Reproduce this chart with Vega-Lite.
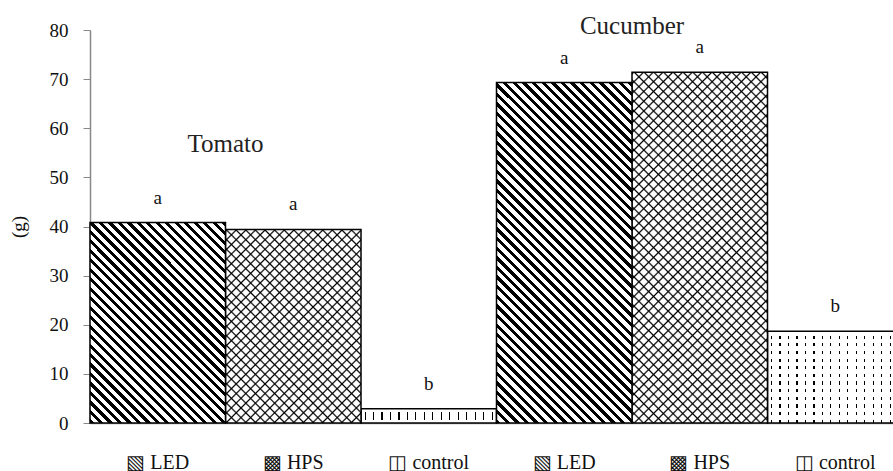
{
  "$schema": "https://vega.github.io/schema/vega-lite/v6.json",
  "width": 803,
  "height": 393,
  "autosize": {"type": "none"},
  "padding": {"left": 90, "top": 30, "right": 0, "bottom": 48},
  "config": {
    "view": {"stroke": null},
    "font": "Liberation Serif",
    "axis": {"labelFont": "Liberation Serif", "titleFont": "Liberation Serif", "grid": false}
  },
  "datasets": {
    "bars": [
      {"bar": "Tomato LED", "crop": "Tomato", "treatment": "LED", "g": 40.8, "sig": "a"},
      {"bar": "Tomato HPS", "crop": "Tomato", "treatment": "HPS", "g": 39.4, "sig": "a"},
      {"bar": "Tomato control", "crop": "Tomato", "treatment": "control", "g": 2.9, "sig": "b"},
      {"bar": "Cucumber LED", "crop": "Cucumber", "treatment": "LED", "g": 69.3, "sig": "a"},
      {"bar": "Cucumber HPS", "crop": "Cucumber", "treatment": "HPS", "g": 71.4, "sig": "a"},
      {"bar": "Cucumber control", "crop": "Cucumber", "treatment": "control", "g": 18.7, "sig": "b"}
    ],
    "groups": [
      {"bar": "Tomato HPS", "label": "Tomato", "ly": 55.2},
      {"bar": "Cucumber HPS", "label": "Cucumber", "ly": 79.2}
    ]
  },
  "encoding": {
    "x": {
      "field": "bar",
      "type": "nominal",
      "scale": {
        "domain": ["Tomato LED", "Tomato HPS", "Tomato control", "Cucumber LED", "Cucumber HPS", "Cucumber control"],
        "range": [0, 813],
        "paddingInner": 0,
        "paddingOuter": 0
      },
      "axis": {
        "title": null,
        "ticks": false,
        "tickSize": 0,
        "labelAngle": 0,
        "labelFont": "Liberation Serif",
        "labelFontSize": 20,
        "labelColor": "#111",
        "labelBaseline": "alphabetic",
        "labelPadding": 45,
        "domainColor": "#999",
        "domainWidth": 1.5,
        "labelExpr": "indexof(datum.value,'LED')>=0 ? '▧ LED' : indexof(datum.value,'HPS')>=0 ? '▩ HPS' : '◫ control'"
      }
    }
  },
  "layer": [
    {
      "data": {"name": "bars"},
      "encoding": {
        "y": {
          "field": "g",
          "type": "quantitative",
          "scale": {"domain": [0, 80], "nice": false},
          "axis": {
            "title": "(g)",
            "values": [0, 10, 20, 30, 40, 50, 60, 70, 80],
            "titleFont": "Liberation Serif",
            "titleFontSize": 19,
            "titleFontWeight": "normal",
            "titleColor": "#111",
            "titlePadding": 21,
            "labelFont": "Liberation Serif",
            "labelFontSize": 19,
            "labelColor": "#111",
            "labelPadding": 15,
            "tickSize": 7,
            "tickColor": "#888",
            "domainColor": "#888",
            "domainWidth": 1.5
          }
        }
      },
      "layer": [
        {
          "transform": [{"filter": "datum.treatment === 'control'"}],
          "mark": {
            "type": "bar",
            "fill": {
              "gradient": "linear", "x1": 0, "y1": 0, "x2": 1, "y2": 0,
              "stops": [
                {"offset":0,"color":"#fff"},{"offset":0.026,"color":"#fff"},{"offset":0.026,"color":"#000"},{"offset":0.0345,"color":"#000"},{"offset":0.0345,"color":"#fff"},
                {"offset":0.0885,"color":"#fff"},{"offset":0.0885,"color":"#000"},{"offset":0.097,"color":"#000"},{"offset":0.097,"color":"#fff"},
                {"offset":0.151,"color":"#fff"},{"offset":0.151,"color":"#000"},{"offset":0.1595,"color":"#000"},{"offset":0.1595,"color":"#fff"},
                {"offset":0.2135,"color":"#fff"},{"offset":0.2135,"color":"#000"},{"offset":0.222,"color":"#000"},{"offset":0.222,"color":"#fff"},
                {"offset":0.276,"color":"#fff"},{"offset":0.276,"color":"#000"},{"offset":0.2845,"color":"#000"},{"offset":0.2845,"color":"#fff"},
                {"offset":0.3385,"color":"#fff"},{"offset":0.3385,"color":"#000"},{"offset":0.347,"color":"#000"},{"offset":0.347,"color":"#fff"},
                {"offset":0.401,"color":"#fff"},{"offset":0.401,"color":"#000"},{"offset":0.4095,"color":"#000"},{"offset":0.4095,"color":"#fff"},
                {"offset":0.4635,"color":"#fff"},{"offset":0.4635,"color":"#000"},{"offset":0.472,"color":"#000"},{"offset":0.472,"color":"#fff"},
                {"offset":0.526,"color":"#fff"},{"offset":0.526,"color":"#000"},{"offset":0.5345,"color":"#000"},{"offset":0.5345,"color":"#fff"},
                {"offset":0.5885,"color":"#fff"},{"offset":0.5885,"color":"#000"},{"offset":0.597,"color":"#000"},{"offset":0.597,"color":"#fff"},
                {"offset":0.651,"color":"#fff"},{"offset":0.651,"color":"#000"},{"offset":0.6595,"color":"#000"},{"offset":0.6595,"color":"#fff"},
                {"offset":0.7135,"color":"#fff"},{"offset":0.7135,"color":"#000"},{"offset":0.722,"color":"#000"},{"offset":0.722,"color":"#fff"},
                {"offset":0.776,"color":"#fff"},{"offset":0.776,"color":"#000"},{"offset":0.7845,"color":"#000"},{"offset":0.7845,"color":"#fff"},
                {"offset":0.8385,"color":"#fff"},{"offset":0.8385,"color":"#000"},{"offset":0.847,"color":"#000"},{"offset":0.847,"color":"#fff"},
                {"offset":0.901,"color":"#fff"},{"offset":0.901,"color":"#000"},{"offset":0.9095,"color":"#000"},{"offset":0.9095,"color":"#fff"},
                {"offset":0.9635,"color":"#fff"},{"offset":0.9635,"color":"#000"},{"offset":0.972,"color":"#000"},{"offset":0.972,"color":"#fff"},
                {"offset":1,"color":"#fff"}
              ]
            }
          }
        },
        {
          "transform": [{"filter": "datum.bar === 'Tomato control'"}],
          "mark": {
            "type": "bar", "stroke": "#000", "strokeWidth": 1.5,
            "fill": {
              "gradient": "linear", "x1": 0, "y1": 0, "x2": 0, "y2": 1,
              "stops": [
                {"offset":0,"color":"#fff"},{"offset":0.22,"color":"#fff"},{"offset":0.22,"color":"transparent"},
                {"offset":0.78,"color":"transparent"},{"offset":0.78,"color":"#fff"},{"offset":1,"color":"#fff"}
              ]
            }
          }
        },
        {
          "transform": [{"filter": "datum.bar === 'Cucumber control'"}],
          "mark": {
            "type": "bar", "stroke": "#000", "strokeWidth": 1.5,
            "fill": {
              "gradient": "linear", "x1": 0, "y1": 0, "x2": 0, "y2": 1,
              "stops": [
                {"offset":0,"color":"#fff"},{"offset":0.048,"color":"#fff"},{"offset":0.048,"color":"transparent"},{"offset":0.0833,"color":"transparent"},
                {"offset":0.0833,"color":"#fff"},{"offset":0.1313,"color":"#fff"},{"offset":0.1313,"color":"transparent"},{"offset":0.1667,"color":"transparent"},
                {"offset":0.1667,"color":"#fff"},{"offset":0.2147,"color":"#fff"},{"offset":0.2147,"color":"transparent"},{"offset":0.25,"color":"transparent"},
                {"offset":0.25,"color":"#fff"},{"offset":0.298,"color":"#fff"},{"offset":0.298,"color":"transparent"},{"offset":0.3333,"color":"transparent"},
                {"offset":0.3333,"color":"#fff"},{"offset":0.3813,"color":"#fff"},{"offset":0.3813,"color":"transparent"},{"offset":0.4167,"color":"transparent"},
                {"offset":0.4167,"color":"#fff"},{"offset":0.4647,"color":"#fff"},{"offset":0.4647,"color":"transparent"},{"offset":0.5,"color":"transparent"},
                {"offset":0.5,"color":"#fff"},{"offset":0.548,"color":"#fff"},{"offset":0.548,"color":"transparent"},{"offset":0.5833,"color":"transparent"},
                {"offset":0.5833,"color":"#fff"},{"offset":0.6313,"color":"#fff"},{"offset":0.6313,"color":"transparent"},{"offset":0.6667,"color":"transparent"},
                {"offset":0.6667,"color":"#fff"},{"offset":0.7147,"color":"#fff"},{"offset":0.7147,"color":"transparent"},{"offset":0.75,"color":"transparent"},
                {"offset":0.75,"color":"#fff"},{"offset":0.798,"color":"#fff"},{"offset":0.798,"color":"transparent"},{"offset":0.8333,"color":"transparent"},
                {"offset":0.8333,"color":"#fff"},{"offset":0.8813,"color":"#fff"},{"offset":0.8813,"color":"transparent"},{"offset":0.9167,"color":"transparent"},
                {"offset":0.9167,"color":"#fff"},{"offset":0.9647,"color":"#fff"},{"offset":0.9647,"color":"transparent"},{"offset":1,"color":"transparent"}
              ]
            }
          }
        },
        {
          "transform": [{"filter": "datum.bar === 'Tomato HPS'"}],
          "mark": {
            "type": "bar",
            "fill": {
              "gradient": "linear", "x1": 0, "y1": 0, "x2": 0.9336, "y2": 1.3335,
              "stops": [
                {"offset":0,"color":"#fff"},{"offset":0.0044,"color":"#000"},{"offset":0.0088,"color":"#fff"},
                {"offset":0.025,"color":"#fff"},{"offset":0.0294,"color":"#000"},{"offset":0.0338,"color":"#fff"},
                {"offset":0.05,"color":"#fff"},{"offset":0.0544,"color":"#000"},{"offset":0.0588,"color":"#fff"},
                {"offset":0.075,"color":"#fff"},{"offset":0.0794,"color":"#000"},{"offset":0.0838,"color":"#fff"},
                {"offset":0.1,"color":"#fff"},{"offset":0.1044,"color":"#000"},{"offset":0.1088,"color":"#fff"},
                {"offset":0.125,"color":"#fff"},{"offset":0.1294,"color":"#000"},{"offset":0.1338,"color":"#fff"},
                {"offset":0.15,"color":"#fff"},{"offset":0.1544,"color":"#000"},{"offset":0.1588,"color":"#fff"},
                {"offset":0.175,"color":"#fff"},{"offset":0.1794,"color":"#000"},{"offset":0.1838,"color":"#fff"},
                {"offset":0.2,"color":"#fff"},{"offset":0.2044,"color":"#000"},{"offset":0.2088,"color":"#fff"},
                {"offset":0.225,"color":"#fff"},{"offset":0.2294,"color":"#000"},{"offset":0.2338,"color":"#fff"},
                {"offset":0.25,"color":"#fff"},{"offset":0.2544,"color":"#000"},{"offset":0.2588,"color":"#fff"},
                {"offset":0.275,"color":"#fff"},{"offset":0.2794,"color":"#000"},{"offset":0.2838,"color":"#fff"},
                {"offset":0.3,"color":"#fff"},{"offset":0.3044,"color":"#000"},{"offset":0.3088,"color":"#fff"},
                {"offset":0.325,"color":"#fff"},{"offset":0.3294,"color":"#000"},{"offset":0.3338,"color":"#fff"},
                {"offset":0.35,"color":"#fff"},{"offset":0.3544,"color":"#000"},{"offset":0.3588,"color":"#fff"},
                {"offset":0.375,"color":"#fff"},{"offset":0.3794,"color":"#000"},{"offset":0.3838,"color":"#fff"},
                {"offset":0.4,"color":"#fff"},{"offset":0.4044,"color":"#000"},{"offset":0.4088,"color":"#fff"},
                {"offset":0.425,"color":"#fff"},{"offset":0.4294,"color":"#000"},{"offset":0.4338,"color":"#fff"},
                {"offset":0.45,"color":"#fff"},{"offset":0.4544,"color":"#000"},{"offset":0.4588,"color":"#fff"},
                {"offset":0.475,"color":"#fff"},{"offset":0.4794,"color":"#000"},{"offset":0.4838,"color":"#fff"},
                {"offset":0.5,"color":"#fff"},{"offset":0.5044,"color":"#000"},{"offset":0.5088,"color":"#fff"},
                {"offset":0.525,"color":"#fff"},{"offset":0.5294,"color":"#000"},{"offset":0.5338,"color":"#fff"},
                {"offset":0.55,"color":"#fff"},{"offset":0.5544,"color":"#000"},{"offset":0.5588,"color":"#fff"},
                {"offset":0.575,"color":"#fff"},{"offset":0.5794,"color":"#000"},{"offset":0.5838,"color":"#fff"},
                {"offset":0.6,"color":"#fff"},{"offset":0.6044,"color":"#000"},{"offset":0.6088,"color":"#fff"},
                {"offset":0.625,"color":"#fff"},{"offset":0.6294,"color":"#000"},{"offset":0.6338,"color":"#fff"},
                {"offset":0.65,"color":"#fff"},{"offset":0.6544,"color":"#000"},{"offset":0.6588,"color":"#fff"},
                {"offset":0.675,"color":"#fff"},{"offset":0.6794,"color":"#000"},{"offset":0.6838,"color":"#fff"},
                {"offset":0.7,"color":"#fff"},{"offset":0.7044,"color":"#000"},{"offset":0.7088,"color":"#fff"},
                {"offset":0.725,"color":"#fff"},{"offset":0.7294,"color":"#000"},{"offset":0.7338,"color":"#fff"},
                {"offset":0.75,"color":"#fff"},{"offset":0.7544,"color":"#000"},{"offset":0.7588,"color":"#fff"},
                {"offset":0.775,"color":"#fff"},{"offset":0.7794,"color":"#000"},{"offset":0.7838,"color":"#fff"},
                {"offset":0.8,"color":"#fff"},{"offset":0.8044,"color":"#000"},{"offset":0.8088,"color":"#fff"},
                {"offset":0.825,"color":"#fff"},{"offset":0.8294,"color":"#000"},{"offset":0.8338,"color":"#fff"},
                {"offset":0.85,"color":"#fff"},{"offset":0.8544,"color":"#000"},{"offset":0.8588,"color":"#fff"},
                {"offset":0.875,"color":"#fff"},{"offset":0.8794,"color":"#000"},{"offset":0.8838,"color":"#fff"},
                {"offset":0.9,"color":"#fff"},{"offset":0.9044,"color":"#000"},{"offset":0.9088,"color":"#fff"},
                {"offset":0.925,"color":"#fff"},{"offset":0.9294,"color":"#000"},{"offset":0.9338,"color":"#fff"},
                {"offset":0.95,"color":"#fff"},{"offset":0.9544,"color":"#000"},{"offset":0.9588,"color":"#fff"},
                {"offset":0.975,"color":"#fff"},{"offset":0.9794,"color":"#000"},{"offset":0.9838,"color":"#fff"},
                {"offset":1,"color":"#fff"}
              ]
            }
          }
        },
        {
          "transform": [{"filter": "datum.bar === 'Tomato HPS'"}],
          "mark": {
            "type": "bar", "stroke": "#000", "strokeWidth": 1.5,
            "fill": {
              "gradient": "linear", "x1": 0, "y1": 1, "x2": 0.9336, "y2": -0.3335,
              "stops": [
                {"offset":0,"color":"transparent"},{"offset":0.0044,"color":"#000"},{"offset":0.0088,"color":"transparent"},
                {"offset":0.025,"color":"transparent"},{"offset":0.0294,"color":"#000"},{"offset":0.0338,"color":"transparent"},
                {"offset":0.05,"color":"transparent"},{"offset":0.0544,"color":"#000"},{"offset":0.0588,"color":"transparent"},
                {"offset":0.075,"color":"transparent"},{"offset":0.0794,"color":"#000"},{"offset":0.0838,"color":"transparent"},
                {"offset":0.1,"color":"transparent"},{"offset":0.1044,"color":"#000"},{"offset":0.1088,"color":"transparent"},
                {"offset":0.125,"color":"transparent"},{"offset":0.1294,"color":"#000"},{"offset":0.1338,"color":"transparent"},
                {"offset":0.15,"color":"transparent"},{"offset":0.1544,"color":"#000"},{"offset":0.1588,"color":"transparent"},
                {"offset":0.175,"color":"transparent"},{"offset":0.1794,"color":"#000"},{"offset":0.1838,"color":"transparent"},
                {"offset":0.2,"color":"transparent"},{"offset":0.2044,"color":"#000"},{"offset":0.2088,"color":"transparent"},
                {"offset":0.225,"color":"transparent"},{"offset":0.2294,"color":"#000"},{"offset":0.2338,"color":"transparent"},
                {"offset":0.25,"color":"transparent"},{"offset":0.2544,"color":"#000"},{"offset":0.2588,"color":"transparent"},
                {"offset":0.275,"color":"transparent"},{"offset":0.2794,"color":"#000"},{"offset":0.2838,"color":"transparent"},
                {"offset":0.3,"color":"transparent"},{"offset":0.3044,"color":"#000"},{"offset":0.3088,"color":"transparent"},
                {"offset":0.325,"color":"transparent"},{"offset":0.3294,"color":"#000"},{"offset":0.3338,"color":"transparent"},
                {"offset":0.35,"color":"transparent"},{"offset":0.3544,"color":"#000"},{"offset":0.3588,"color":"transparent"},
                {"offset":0.375,"color":"transparent"},{"offset":0.3794,"color":"#000"},{"offset":0.3838,"color":"transparent"},
                {"offset":0.4,"color":"transparent"},{"offset":0.4044,"color":"#000"},{"offset":0.4088,"color":"transparent"},
                {"offset":0.425,"color":"transparent"},{"offset":0.4294,"color":"#000"},{"offset":0.4338,"color":"transparent"},
                {"offset":0.45,"color":"transparent"},{"offset":0.4544,"color":"#000"},{"offset":0.4588,"color":"transparent"},
                {"offset":0.475,"color":"transparent"},{"offset":0.4794,"color":"#000"},{"offset":0.4838,"color":"transparent"},
                {"offset":0.5,"color":"transparent"},{"offset":0.5044,"color":"#000"},{"offset":0.5088,"color":"transparent"},
                {"offset":0.525,"color":"transparent"},{"offset":0.5294,"color":"#000"},{"offset":0.5338,"color":"transparent"},
                {"offset":0.55,"color":"transparent"},{"offset":0.5544,"color":"#000"},{"offset":0.5588,"color":"transparent"},
                {"offset":0.575,"color":"transparent"},{"offset":0.5794,"color":"#000"},{"offset":0.5838,"color":"transparent"},
                {"offset":0.6,"color":"transparent"},{"offset":0.6044,"color":"#000"},{"offset":0.6088,"color":"transparent"},
                {"offset":0.625,"color":"transparent"},{"offset":0.6294,"color":"#000"},{"offset":0.6338,"color":"transparent"},
                {"offset":0.65,"color":"transparent"},{"offset":0.6544,"color":"#000"},{"offset":0.6588,"color":"transparent"},
                {"offset":0.675,"color":"transparent"},{"offset":0.6794,"color":"#000"},{"offset":0.6838,"color":"transparent"},
                {"offset":0.7,"color":"transparent"},{"offset":0.7044,"color":"#000"},{"offset":0.7088,"color":"transparent"},
                {"offset":0.725,"color":"transparent"},{"offset":0.7294,"color":"#000"},{"offset":0.7338,"color":"transparent"},
                {"offset":0.75,"color":"transparent"},{"offset":0.7544,"color":"#000"},{"offset":0.7588,"color":"transparent"},
                {"offset":0.775,"color":"transparent"},{"offset":0.7794,"color":"#000"},{"offset":0.7838,"color":"transparent"},
                {"offset":0.8,"color":"transparent"},{"offset":0.8044,"color":"#000"},{"offset":0.8088,"color":"transparent"},
                {"offset":0.825,"color":"transparent"},{"offset":0.8294,"color":"#000"},{"offset":0.8338,"color":"transparent"},
                {"offset":0.85,"color":"transparent"},{"offset":0.8544,"color":"#000"},{"offset":0.8588,"color":"transparent"},
                {"offset":0.875,"color":"transparent"},{"offset":0.8794,"color":"#000"},{"offset":0.8838,"color":"transparent"},
                {"offset":0.9,"color":"transparent"},{"offset":0.9044,"color":"#000"},{"offset":0.9088,"color":"transparent"},
                {"offset":0.925,"color":"transparent"},{"offset":0.9294,"color":"#000"},{"offset":0.9338,"color":"transparent"},
                {"offset":0.95,"color":"transparent"},{"offset":0.9544,"color":"#000"},{"offset":0.9588,"color":"transparent"},
                {"offset":0.975,"color":"transparent"},{"offset":0.9794,"color":"#000"},{"offset":0.9838,"color":"transparent"},
                {"offset":1,"color":"transparent"}
              ]
            }
          }
        },
        {
          "transform": [{"filter": "datum.bar === 'Cucumber HPS'"}],
          "mark": {
            "type": "bar",
            "fill": {
              "gradient": "linear", "x1": 0, "y1": 0, "x2": 0.4677, "y2": 1.2106,
              "stops": [
                {"offset":0,"color":"#fff"},{"offset":0.0035,"color":"#000"},{"offset":0.007,"color":"#fff"},
                {"offset":0.02,"color":"#fff"},{"offset":0.0235,"color":"#000"},{"offset":0.027,"color":"#fff"},
                {"offset":0.04,"color":"#fff"},{"offset":0.0435,"color":"#000"},{"offset":0.047,"color":"#fff"},
                {"offset":0.06,"color":"#fff"},{"offset":0.0635,"color":"#000"},{"offset":0.067,"color":"#fff"},
                {"offset":0.08,"color":"#fff"},{"offset":0.0835,"color":"#000"},{"offset":0.087,"color":"#fff"},
                {"offset":0.1,"color":"#fff"},{"offset":0.1035,"color":"#000"},{"offset":0.107,"color":"#fff"},
                {"offset":0.12,"color":"#fff"},{"offset":0.1235,"color":"#000"},{"offset":0.127,"color":"#fff"},
                {"offset":0.14,"color":"#fff"},{"offset":0.1435,"color":"#000"},{"offset":0.147,"color":"#fff"},
                {"offset":0.16,"color":"#fff"},{"offset":0.1635,"color":"#000"},{"offset":0.167,"color":"#fff"},
                {"offset":0.18,"color":"#fff"},{"offset":0.1835,"color":"#000"},{"offset":0.187,"color":"#fff"},
                {"offset":0.2,"color":"#fff"},{"offset":0.2035,"color":"#000"},{"offset":0.207,"color":"#fff"},
                {"offset":0.22,"color":"#fff"},{"offset":0.2235,"color":"#000"},{"offset":0.227,"color":"#fff"},
                {"offset":0.24,"color":"#fff"},{"offset":0.2435,"color":"#000"},{"offset":0.247,"color":"#fff"},
                {"offset":0.26,"color":"#fff"},{"offset":0.2635,"color":"#000"},{"offset":0.267,"color":"#fff"},
                {"offset":0.28,"color":"#fff"},{"offset":0.2835,"color":"#000"},{"offset":0.287,"color":"#fff"},
                {"offset":0.3,"color":"#fff"},{"offset":0.3035,"color":"#000"},{"offset":0.307,"color":"#fff"},
                {"offset":0.32,"color":"#fff"},{"offset":0.3235,"color":"#000"},{"offset":0.327,"color":"#fff"},
                {"offset":0.34,"color":"#fff"},{"offset":0.3435,"color":"#000"},{"offset":0.347,"color":"#fff"},
                {"offset":0.36,"color":"#fff"},{"offset":0.3635,"color":"#000"},{"offset":0.367,"color":"#fff"},
                {"offset":0.38,"color":"#fff"},{"offset":0.3835,"color":"#000"},{"offset":0.387,"color":"#fff"},
                {"offset":0.4,"color":"#fff"},{"offset":0.4035,"color":"#000"},{"offset":0.407,"color":"#fff"},
                {"offset":0.42,"color":"#fff"},{"offset":0.4235,"color":"#000"},{"offset":0.427,"color":"#fff"},
                {"offset":0.44,"color":"#fff"},{"offset":0.4435,"color":"#000"},{"offset":0.447,"color":"#fff"},
                {"offset":0.46,"color":"#fff"},{"offset":0.4635,"color":"#000"},{"offset":0.467,"color":"#fff"},
                {"offset":0.48,"color":"#fff"},{"offset":0.4835,"color":"#000"},{"offset":0.487,"color":"#fff"},
                {"offset":0.5,"color":"#fff"},{"offset":0.5035,"color":"#000"},{"offset":0.507,"color":"#fff"},
                {"offset":0.52,"color":"#fff"},{"offset":0.5235,"color":"#000"},{"offset":0.527,"color":"#fff"},
                {"offset":0.54,"color":"#fff"},{"offset":0.5435,"color":"#000"},{"offset":0.547,"color":"#fff"},
                {"offset":0.56,"color":"#fff"},{"offset":0.5635,"color":"#000"},{"offset":0.567,"color":"#fff"},
                {"offset":0.58,"color":"#fff"},{"offset":0.5835,"color":"#000"},{"offset":0.587,"color":"#fff"},
                {"offset":0.6,"color":"#fff"},{"offset":0.6035,"color":"#000"},{"offset":0.607,"color":"#fff"},
                {"offset":0.62,"color":"#fff"},{"offset":0.6235,"color":"#000"},{"offset":0.627,"color":"#fff"},
                {"offset":0.64,"color":"#fff"},{"offset":0.6435,"color":"#000"},{"offset":0.647,"color":"#fff"},
                {"offset":0.66,"color":"#fff"},{"offset":0.6635,"color":"#000"},{"offset":0.667,"color":"#fff"},
                {"offset":0.68,"color":"#fff"},{"offset":0.6835,"color":"#000"},{"offset":0.687,"color":"#fff"},
                {"offset":0.7,"color":"#fff"},{"offset":0.7035,"color":"#000"},{"offset":0.707,"color":"#fff"},
                {"offset":0.72,"color":"#fff"},{"offset":0.7235,"color":"#000"},{"offset":0.727,"color":"#fff"},
                {"offset":0.74,"color":"#fff"},{"offset":0.7435,"color":"#000"},{"offset":0.747,"color":"#fff"},
                {"offset":0.76,"color":"#fff"},{"offset":0.7635,"color":"#000"},{"offset":0.767,"color":"#fff"},
                {"offset":0.78,"color":"#fff"},{"offset":0.7835,"color":"#000"},{"offset":0.787,"color":"#fff"},
                {"offset":0.8,"color":"#fff"},{"offset":0.8035,"color":"#000"},{"offset":0.807,"color":"#fff"},
                {"offset":0.82,"color":"#fff"},{"offset":0.8235,"color":"#000"},{"offset":0.827,"color":"#fff"},
                {"offset":0.84,"color":"#fff"},{"offset":0.8435,"color":"#000"},{"offset":0.847,"color":"#fff"},
                {"offset":0.86,"color":"#fff"},{"offset":0.8635,"color":"#000"},{"offset":0.867,"color":"#fff"},
                {"offset":0.88,"color":"#fff"},{"offset":0.8835,"color":"#000"},{"offset":0.887,"color":"#fff"},
                {"offset":0.9,"color":"#fff"},{"offset":0.9035,"color":"#000"},{"offset":0.907,"color":"#fff"},
                {"offset":0.92,"color":"#fff"},{"offset":0.9235,"color":"#000"},{"offset":0.927,"color":"#fff"},
                {"offset":0.94,"color":"#fff"},{"offset":0.9435,"color":"#000"},{"offset":0.947,"color":"#fff"},
                {"offset":0.96,"color":"#fff"},{"offset":0.9635,"color":"#000"},{"offset":0.967,"color":"#fff"},
                {"offset":0.98,"color":"#fff"},{"offset":0.9835,"color":"#000"},{"offset":0.987,"color":"#fff"},
                {"offset":1,"color":"#fff"}
              ]
            }
          }
        },
        {
          "transform": [{"filter": "datum.bar === 'Cucumber HPS'"}],
          "mark": {
            "type": "bar", "stroke": "#000", "strokeWidth": 1.5,
            "fill": {
              "gradient": "linear", "x1": 0, "y1": 1, "x2": 0.4677, "y2": -0.2106,
              "stops": [
                {"offset":0,"color":"transparent"},{"offset":0.0035,"color":"#000"},{"offset":0.007,"color":"transparent"},
                {"offset":0.02,"color":"transparent"},{"offset":0.0235,"color":"#000"},{"offset":0.027,"color":"transparent"},
                {"offset":0.04,"color":"transparent"},{"offset":0.0435,"color":"#000"},{"offset":0.047,"color":"transparent"},
                {"offset":0.06,"color":"transparent"},{"offset":0.0635,"color":"#000"},{"offset":0.067,"color":"transparent"},
                {"offset":0.08,"color":"transparent"},{"offset":0.0835,"color":"#000"},{"offset":0.087,"color":"transparent"},
                {"offset":0.1,"color":"transparent"},{"offset":0.1035,"color":"#000"},{"offset":0.107,"color":"transparent"},
                {"offset":0.12,"color":"transparent"},{"offset":0.1235,"color":"#000"},{"offset":0.127,"color":"transparent"},
                {"offset":0.14,"color":"transparent"},{"offset":0.1435,"color":"#000"},{"offset":0.147,"color":"transparent"},
                {"offset":0.16,"color":"transparent"},{"offset":0.1635,"color":"#000"},{"offset":0.167,"color":"transparent"},
                {"offset":0.18,"color":"transparent"},{"offset":0.1835,"color":"#000"},{"offset":0.187,"color":"transparent"},
                {"offset":0.2,"color":"transparent"},{"offset":0.2035,"color":"#000"},{"offset":0.207,"color":"transparent"},
                {"offset":0.22,"color":"transparent"},{"offset":0.2235,"color":"#000"},{"offset":0.227,"color":"transparent"},
                {"offset":0.24,"color":"transparent"},{"offset":0.2435,"color":"#000"},{"offset":0.247,"color":"transparent"},
                {"offset":0.26,"color":"transparent"},{"offset":0.2635,"color":"#000"},{"offset":0.267,"color":"transparent"},
                {"offset":0.28,"color":"transparent"},{"offset":0.2835,"color":"#000"},{"offset":0.287,"color":"transparent"},
                {"offset":0.3,"color":"transparent"},{"offset":0.3035,"color":"#000"},{"offset":0.307,"color":"transparent"},
                {"offset":0.32,"color":"transparent"},{"offset":0.3235,"color":"#000"},{"offset":0.327,"color":"transparent"},
                {"offset":0.34,"color":"transparent"},{"offset":0.3435,"color":"#000"},{"offset":0.347,"color":"transparent"},
                {"offset":0.36,"color":"transparent"},{"offset":0.3635,"color":"#000"},{"offset":0.367,"color":"transparent"},
                {"offset":0.38,"color":"transparent"},{"offset":0.3835,"color":"#000"},{"offset":0.387,"color":"transparent"},
                {"offset":0.4,"color":"transparent"},{"offset":0.4035,"color":"#000"},{"offset":0.407,"color":"transparent"},
                {"offset":0.42,"color":"transparent"},{"offset":0.4235,"color":"#000"},{"offset":0.427,"color":"transparent"},
                {"offset":0.44,"color":"transparent"},{"offset":0.4435,"color":"#000"},{"offset":0.447,"color":"transparent"},
                {"offset":0.46,"color":"transparent"},{"offset":0.4635,"color":"#000"},{"offset":0.467,"color":"transparent"},
                {"offset":0.48,"color":"transparent"},{"offset":0.4835,"color":"#000"},{"offset":0.487,"color":"transparent"},
                {"offset":0.5,"color":"transparent"},{"offset":0.5035,"color":"#000"},{"offset":0.507,"color":"transparent"},
                {"offset":0.52,"color":"transparent"},{"offset":0.5235,"color":"#000"},{"offset":0.527,"color":"transparent"},
                {"offset":0.54,"color":"transparent"},{"offset":0.5435,"color":"#000"},{"offset":0.547,"color":"transparent"},
                {"offset":0.56,"color":"transparent"},{"offset":0.5635,"color":"#000"},{"offset":0.567,"color":"transparent"},
                {"offset":0.58,"color":"transparent"},{"offset":0.5835,"color":"#000"},{"offset":0.587,"color":"transparent"},
                {"offset":0.6,"color":"transparent"},{"offset":0.6035,"color":"#000"},{"offset":0.607,"color":"transparent"},
                {"offset":0.62,"color":"transparent"},{"offset":0.6235,"color":"#000"},{"offset":0.627,"color":"transparent"},
                {"offset":0.64,"color":"transparent"},{"offset":0.6435,"color":"#000"},{"offset":0.647,"color":"transparent"},
                {"offset":0.66,"color":"transparent"},{"offset":0.6635,"color":"#000"},{"offset":0.667,"color":"transparent"},
                {"offset":0.68,"color":"transparent"},{"offset":0.6835,"color":"#000"},{"offset":0.687,"color":"transparent"},
                {"offset":0.7,"color":"transparent"},{"offset":0.7035,"color":"#000"},{"offset":0.707,"color":"transparent"},
                {"offset":0.72,"color":"transparent"},{"offset":0.7235,"color":"#000"},{"offset":0.727,"color":"transparent"},
                {"offset":0.74,"color":"transparent"},{"offset":0.7435,"color":"#000"},{"offset":0.747,"color":"transparent"},
                {"offset":0.76,"color":"transparent"},{"offset":0.7635,"color":"#000"},{"offset":0.767,"color":"transparent"},
                {"offset":0.78,"color":"transparent"},{"offset":0.7835,"color":"#000"},{"offset":0.787,"color":"transparent"},
                {"offset":0.8,"color":"transparent"},{"offset":0.8035,"color":"#000"},{"offset":0.807,"color":"transparent"},
                {"offset":0.82,"color":"transparent"},{"offset":0.8235,"color":"#000"},{"offset":0.827,"color":"transparent"},
                {"offset":0.84,"color":"transparent"},{"offset":0.8435,"color":"#000"},{"offset":0.847,"color":"transparent"},
                {"offset":0.86,"color":"transparent"},{"offset":0.8635,"color":"#000"},{"offset":0.867,"color":"transparent"},
                {"offset":0.88,"color":"transparent"},{"offset":0.8835,"color":"#000"},{"offset":0.887,"color":"transparent"},
                {"offset":0.9,"color":"transparent"},{"offset":0.9035,"color":"#000"},{"offset":0.907,"color":"transparent"},
                {"offset":0.92,"color":"transparent"},{"offset":0.9235,"color":"#000"},{"offset":0.927,"color":"transparent"},
                {"offset":0.94,"color":"transparent"},{"offset":0.9435,"color":"#000"},{"offset":0.947,"color":"transparent"},
                {"offset":0.96,"color":"transparent"},{"offset":0.9635,"color":"#000"},{"offset":0.967,"color":"transparent"},
                {"offset":0.98,"color":"transparent"},{"offset":0.9835,"color":"#000"},{"offset":0.987,"color":"transparent"},
                {"offset":1,"color":"transparent"}
              ]
            }
          }
        },
        {
          "transform": [{"filter": "datum.bar === 'Tomato LED'"}],
          "mark": {
            "type": "bar",
            "stroke": "#000",
            "strokeWidth": 1.5,
            "fill": {
              "gradient": "linear",
              "x1": 0, "y1": 1, "x2": 0.8773, "y2": -0.2975,
              "stops": [
                {"offset":0,"color":"#000"},{"offset":0.011,"color":"#000"},{"offset":0.011,"color":"#fff"},{"offset":0.025,"color":"#fff"},
                {"offset":0.025,"color":"#000"},{"offset":0.036,"color":"#000"},{"offset":0.036,"color":"#fff"},{"offset":0.05,"color":"#fff"},
                {"offset":0.05,"color":"#000"},{"offset":0.061,"color":"#000"},{"offset":0.061,"color":"#fff"},{"offset":0.075,"color":"#fff"},
                {"offset":0.075,"color":"#000"},{"offset":0.086,"color":"#000"},{"offset":0.086,"color":"#fff"},{"offset":0.1,"color":"#fff"},
                {"offset":0.1,"color":"#000"},{"offset":0.111,"color":"#000"},{"offset":0.111,"color":"#fff"},{"offset":0.125,"color":"#fff"},
                {"offset":0.125,"color":"#000"},{"offset":0.136,"color":"#000"},{"offset":0.136,"color":"#fff"},{"offset":0.15,"color":"#fff"},
                {"offset":0.15,"color":"#000"},{"offset":0.161,"color":"#000"},{"offset":0.161,"color":"#fff"},{"offset":0.175,"color":"#fff"},
                {"offset":0.175,"color":"#000"},{"offset":0.186,"color":"#000"},{"offset":0.186,"color":"#fff"},{"offset":0.2,"color":"#fff"},
                {"offset":0.2,"color":"#000"},{"offset":0.211,"color":"#000"},{"offset":0.211,"color":"#fff"},{"offset":0.225,"color":"#fff"},
                {"offset":0.225,"color":"#000"},{"offset":0.236,"color":"#000"},{"offset":0.236,"color":"#fff"},{"offset":0.25,"color":"#fff"},
                {"offset":0.25,"color":"#000"},{"offset":0.261,"color":"#000"},{"offset":0.261,"color":"#fff"},{"offset":0.275,"color":"#fff"},
                {"offset":0.275,"color":"#000"},{"offset":0.286,"color":"#000"},{"offset":0.286,"color":"#fff"},{"offset":0.3,"color":"#fff"},
                {"offset":0.3,"color":"#000"},{"offset":0.311,"color":"#000"},{"offset":0.311,"color":"#fff"},{"offset":0.325,"color":"#fff"},
                {"offset":0.325,"color":"#000"},{"offset":0.336,"color":"#000"},{"offset":0.336,"color":"#fff"},{"offset":0.35,"color":"#fff"},
                {"offset":0.35,"color":"#000"},{"offset":0.361,"color":"#000"},{"offset":0.361,"color":"#fff"},{"offset":0.375,"color":"#fff"},
                {"offset":0.375,"color":"#000"},{"offset":0.386,"color":"#000"},{"offset":0.386,"color":"#fff"},{"offset":0.4,"color":"#fff"},
                {"offset":0.4,"color":"#000"},{"offset":0.411,"color":"#000"},{"offset":0.411,"color":"#fff"},{"offset":0.425,"color":"#fff"},
                {"offset":0.425,"color":"#000"},{"offset":0.436,"color":"#000"},{"offset":0.436,"color":"#fff"},{"offset":0.45,"color":"#fff"},
                {"offset":0.45,"color":"#000"},{"offset":0.461,"color":"#000"},{"offset":0.461,"color":"#fff"},{"offset":0.475,"color":"#fff"},
                {"offset":0.475,"color":"#000"},{"offset":0.486,"color":"#000"},{"offset":0.486,"color":"#fff"},{"offset":0.5,"color":"#fff"},
                {"offset":0.5,"color":"#000"},{"offset":0.511,"color":"#000"},{"offset":0.511,"color":"#fff"},{"offset":0.525,"color":"#fff"},
                {"offset":0.525,"color":"#000"},{"offset":0.536,"color":"#000"},{"offset":0.536,"color":"#fff"},{"offset":0.55,"color":"#fff"},
                {"offset":0.55,"color":"#000"},{"offset":0.561,"color":"#000"},{"offset":0.561,"color":"#fff"},{"offset":0.575,"color":"#fff"},
                {"offset":0.575,"color":"#000"},{"offset":0.586,"color":"#000"},{"offset":0.586,"color":"#fff"},{"offset":0.6,"color":"#fff"},
                {"offset":0.6,"color":"#000"},{"offset":0.611,"color":"#000"},{"offset":0.611,"color":"#fff"},{"offset":0.625,"color":"#fff"},
                {"offset":0.625,"color":"#000"},{"offset":0.636,"color":"#000"},{"offset":0.636,"color":"#fff"},{"offset":0.65,"color":"#fff"},
                {"offset":0.65,"color":"#000"},{"offset":0.661,"color":"#000"},{"offset":0.661,"color":"#fff"},{"offset":0.675,"color":"#fff"},
                {"offset":0.675,"color":"#000"},{"offset":0.686,"color":"#000"},{"offset":0.686,"color":"#fff"},{"offset":0.7,"color":"#fff"},
                {"offset":0.7,"color":"#000"},{"offset":0.711,"color":"#000"},{"offset":0.711,"color":"#fff"},{"offset":0.725,"color":"#fff"},
                {"offset":0.725,"color":"#000"},{"offset":0.736,"color":"#000"},{"offset":0.736,"color":"#fff"},{"offset":0.75,"color":"#fff"},
                {"offset":0.75,"color":"#000"},{"offset":0.761,"color":"#000"},{"offset":0.761,"color":"#fff"},{"offset":0.775,"color":"#fff"},
                {"offset":0.775,"color":"#000"},{"offset":0.786,"color":"#000"},{"offset":0.786,"color":"#fff"},{"offset":0.8,"color":"#fff"},
                {"offset":0.8,"color":"#000"},{"offset":0.811,"color":"#000"},{"offset":0.811,"color":"#fff"},{"offset":0.825,"color":"#fff"},
                {"offset":0.825,"color":"#000"},{"offset":0.836,"color":"#000"},{"offset":0.836,"color":"#fff"},{"offset":0.85,"color":"#fff"},
                {"offset":0.85,"color":"#000"},{"offset":0.861,"color":"#000"},{"offset":0.861,"color":"#fff"},{"offset":0.875,"color":"#fff"},
                {"offset":0.875,"color":"#000"},{"offset":0.886,"color":"#000"},{"offset":0.886,"color":"#fff"},{"offset":0.9,"color":"#fff"},
                {"offset":0.9,"color":"#000"},{"offset":0.911,"color":"#000"},{"offset":0.911,"color":"#fff"},{"offset":0.925,"color":"#fff"},
                {"offset":0.925,"color":"#000"},{"offset":0.936,"color":"#000"},{"offset":0.936,"color":"#fff"},{"offset":0.95,"color":"#fff"},
                {"offset":0.95,"color":"#000"},{"offset":0.961,"color":"#000"},{"offset":0.961,"color":"#fff"},{"offset":0.975,"color":"#fff"},
                {"offset":0.975,"color":"#000"},{"offset":0.986,"color":"#000"},{"offset":0.986,"color":"#fff"},{"offset":1,"color":"#fff"}
              ]
            }
          }
        },
        {
          "transform": [{"filter": "datum.bar === 'Cucumber LED'"}],
          "mark": {
            "type": "bar",
            "stroke": "#000",
            "strokeWidth": 1.5,
            "fill": {
              "gradient": "linear",
              "x1": 0, "y1": 1, "x2": 0.4851, "y2": -0.219,
              "stops": [
                {"offset":0,"color":"#000"},{"offset":0.009,"color":"#000"},{"offset":0.009,"color":"#fff"},{"offset":0.02,"color":"#fff"},
                {"offset":0.02,"color":"#000"},{"offset":0.029,"color":"#000"},{"offset":0.029,"color":"#fff"},{"offset":0.04,"color":"#fff"},
                {"offset":0.04,"color":"#000"},{"offset":0.049,"color":"#000"},{"offset":0.049,"color":"#fff"},{"offset":0.06,"color":"#fff"},
                {"offset":0.06,"color":"#000"},{"offset":0.069,"color":"#000"},{"offset":0.069,"color":"#fff"},{"offset":0.08,"color":"#fff"},
                {"offset":0.08,"color":"#000"},{"offset":0.089,"color":"#000"},{"offset":0.089,"color":"#fff"},{"offset":0.1,"color":"#fff"},
                {"offset":0.1,"color":"#000"},{"offset":0.109,"color":"#000"},{"offset":0.109,"color":"#fff"},{"offset":0.12,"color":"#fff"},
                {"offset":0.12,"color":"#000"},{"offset":0.129,"color":"#000"},{"offset":0.129,"color":"#fff"},{"offset":0.14,"color":"#fff"},
                {"offset":0.14,"color":"#000"},{"offset":0.149,"color":"#000"},{"offset":0.149,"color":"#fff"},{"offset":0.16,"color":"#fff"},
                {"offset":0.16,"color":"#000"},{"offset":0.169,"color":"#000"},{"offset":0.169,"color":"#fff"},{"offset":0.18,"color":"#fff"},
                {"offset":0.18,"color":"#000"},{"offset":0.189,"color":"#000"},{"offset":0.189,"color":"#fff"},{"offset":0.2,"color":"#fff"},
                {"offset":0.2,"color":"#000"},{"offset":0.209,"color":"#000"},{"offset":0.209,"color":"#fff"},{"offset":0.22,"color":"#fff"},
                {"offset":0.22,"color":"#000"},{"offset":0.229,"color":"#000"},{"offset":0.229,"color":"#fff"},{"offset":0.24,"color":"#fff"},
                {"offset":0.24,"color":"#000"},{"offset":0.249,"color":"#000"},{"offset":0.249,"color":"#fff"},{"offset":0.26,"color":"#fff"},
                {"offset":0.26,"color":"#000"},{"offset":0.269,"color":"#000"},{"offset":0.269,"color":"#fff"},{"offset":0.28,"color":"#fff"},
                {"offset":0.28,"color":"#000"},{"offset":0.289,"color":"#000"},{"offset":0.289,"color":"#fff"},{"offset":0.3,"color":"#fff"},
                {"offset":0.3,"color":"#000"},{"offset":0.309,"color":"#000"},{"offset":0.309,"color":"#fff"},{"offset":0.32,"color":"#fff"},
                {"offset":0.32,"color":"#000"},{"offset":0.329,"color":"#000"},{"offset":0.329,"color":"#fff"},{"offset":0.34,"color":"#fff"},
                {"offset":0.34,"color":"#000"},{"offset":0.349,"color":"#000"},{"offset":0.349,"color":"#fff"},{"offset":0.36,"color":"#fff"},
                {"offset":0.36,"color":"#000"},{"offset":0.369,"color":"#000"},{"offset":0.369,"color":"#fff"},{"offset":0.38,"color":"#fff"},
                {"offset":0.38,"color":"#000"},{"offset":0.389,"color":"#000"},{"offset":0.389,"color":"#fff"},{"offset":0.4,"color":"#fff"},
                {"offset":0.4,"color":"#000"},{"offset":0.409,"color":"#000"},{"offset":0.409,"color":"#fff"},{"offset":0.42,"color":"#fff"},
                {"offset":0.42,"color":"#000"},{"offset":0.429,"color":"#000"},{"offset":0.429,"color":"#fff"},{"offset":0.44,"color":"#fff"},
                {"offset":0.44,"color":"#000"},{"offset":0.449,"color":"#000"},{"offset":0.449,"color":"#fff"},{"offset":0.46,"color":"#fff"},
                {"offset":0.46,"color":"#000"},{"offset":0.469,"color":"#000"},{"offset":0.469,"color":"#fff"},{"offset":0.48,"color":"#fff"},
                {"offset":0.48,"color":"#000"},{"offset":0.489,"color":"#000"},{"offset":0.489,"color":"#fff"},{"offset":0.5,"color":"#fff"},
                {"offset":0.5,"color":"#000"},{"offset":0.509,"color":"#000"},{"offset":0.509,"color":"#fff"},{"offset":0.52,"color":"#fff"},
                {"offset":0.52,"color":"#000"},{"offset":0.529,"color":"#000"},{"offset":0.529,"color":"#fff"},{"offset":0.54,"color":"#fff"},
                {"offset":0.54,"color":"#000"},{"offset":0.549,"color":"#000"},{"offset":0.549,"color":"#fff"},{"offset":0.56,"color":"#fff"},
                {"offset":0.56,"color":"#000"},{"offset":0.569,"color":"#000"},{"offset":0.569,"color":"#fff"},{"offset":0.58,"color":"#fff"},
                {"offset":0.58,"color":"#000"},{"offset":0.589,"color":"#000"},{"offset":0.589,"color":"#fff"},{"offset":0.6,"color":"#fff"},
                {"offset":0.6,"color":"#000"},{"offset":0.609,"color":"#000"},{"offset":0.609,"color":"#fff"},{"offset":0.62,"color":"#fff"},
                {"offset":0.62,"color":"#000"},{"offset":0.629,"color":"#000"},{"offset":0.629,"color":"#fff"},{"offset":0.64,"color":"#fff"},
                {"offset":0.64,"color":"#000"},{"offset":0.649,"color":"#000"},{"offset":0.649,"color":"#fff"},{"offset":0.66,"color":"#fff"},
                {"offset":0.66,"color":"#000"},{"offset":0.669,"color":"#000"},{"offset":0.669,"color":"#fff"},{"offset":0.68,"color":"#fff"},
                {"offset":0.68,"color":"#000"},{"offset":0.689,"color":"#000"},{"offset":0.689,"color":"#fff"},{"offset":0.7,"color":"#fff"},
                {"offset":0.7,"color":"#000"},{"offset":0.709,"color":"#000"},{"offset":0.709,"color":"#fff"},{"offset":0.72,"color":"#fff"},
                {"offset":0.72,"color":"#000"},{"offset":0.729,"color":"#000"},{"offset":0.729,"color":"#fff"},{"offset":0.74,"color":"#fff"},
                {"offset":0.74,"color":"#000"},{"offset":0.749,"color":"#000"},{"offset":0.749,"color":"#fff"},{"offset":0.76,"color":"#fff"},
                {"offset":0.76,"color":"#000"},{"offset":0.769,"color":"#000"},{"offset":0.769,"color":"#fff"},{"offset":0.78,"color":"#fff"},
                {"offset":0.78,"color":"#000"},{"offset":0.789,"color":"#000"},{"offset":0.789,"color":"#fff"},{"offset":0.8,"color":"#fff"},
                {"offset":0.8,"color":"#000"},{"offset":0.809,"color":"#000"},{"offset":0.809,"color":"#fff"},{"offset":0.82,"color":"#fff"},
                {"offset":0.82,"color":"#000"},{"offset":0.829,"color":"#000"},{"offset":0.829,"color":"#fff"},{"offset":0.84,"color":"#fff"},
                {"offset":0.84,"color":"#000"},{"offset":0.849,"color":"#000"},{"offset":0.849,"color":"#fff"},{"offset":0.86,"color":"#fff"},
                {"offset":0.86,"color":"#000"},{"offset":0.869,"color":"#000"},{"offset":0.869,"color":"#fff"},{"offset":0.88,"color":"#fff"},
                {"offset":0.88,"color":"#000"},{"offset":0.889,"color":"#000"},{"offset":0.889,"color":"#fff"},{"offset":0.9,"color":"#fff"},
                {"offset":0.9,"color":"#000"},{"offset":0.909,"color":"#000"},{"offset":0.909,"color":"#fff"},{"offset":0.92,"color":"#fff"},
                {"offset":0.92,"color":"#000"},{"offset":0.929,"color":"#000"},{"offset":0.929,"color":"#fff"},{"offset":0.94,"color":"#fff"},
                {"offset":0.94,"color":"#000"},{"offset":0.949,"color":"#000"},{"offset":0.949,"color":"#fff"},{"offset":0.96,"color":"#fff"},
                {"offset":0.96,"color":"#000"},{"offset":0.969,"color":"#000"},{"offset":0.969,"color":"#fff"},{"offset":0.98,"color":"#fff"},
                {"offset":0.98,"color":"#000"},{"offset":0.989,"color":"#000"},{"offset":0.989,"color":"#fff"},{"offset":1,"color":"#fff"}
              ]
            }
          }
        },
        {
          "mark": {"type": "text", "baseline": "alphabetic", "dy": -19, "fontSize": 19, "color": "#111", "font": "Liberation Serif"},
          "encoding": {"text": {"field": "sig"}}
        }
      ]
    },
    {
      "data": {"name": "groups"},
      "mark": {"type": "text", "baseline": "alphabetic", "align": "center", "fontSize": 25, "color": "#222", "font": "Liberation Serif"},
      "encoding": {
        "x": {"field": "bar", "type": "nominal", "bandPosition": 0},
        "y": {"field": "ly", "type": "quantitative"},
        "text": {"field": "label"}
      }
    }
  ]
}
